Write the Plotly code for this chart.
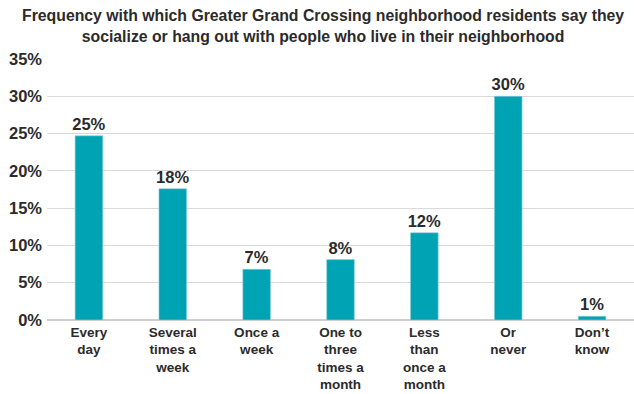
import plotly.graph_objects as go

# Survey responses: how often residents socialize with neighbors
categories = [
    "Every<br>day",
    "Several<br>times a<br>week",
    "Once a<br>week",
    "One to<br>three<br>times a<br>month",
    "Less<br>than<br>once a<br>month",
    "Or<br>never",
    "Don\u2019t<br>know",
]
shares = [24.7, 17.6, 6.8, 8.1, 11.7, 30.0, 0.5]
y_ticks = [0, 5, 10, 15, 20, 25, 30, 35]
y_tick_labels = [f"{t}%" for t in y_ticks]

title_text = (
    "Frequency with which Greater Grand Crossing neighborhood residents say they<br>"
    "socialize or hang out with people who live in their neighborhood"
)

FONT = "Liberation Sans"
TEXT_COLOR = "#2b2b2b"
BAR_COLOR = "#00A3B3"

fig = go.Figure(
    go.Bar(
        x=categories,
        y=shares,
        marker=dict(color=BAR_COLOR, line=dict(color="#8fd3da", width=0.6)),
        width=0.33,
        texttemplate="%{y:.0f}%",
        textposition="outside",
        constraintext="none",
        textfont=dict(family=FONT, size=16.5, color=TEXT_COLOR, weight="bold"),
        cliponaxis=False,
        hoverinfo="skip",
    )
)

# Two-line heading placed above the plot area
fig.add_annotation(
    text=title_text,
    xref="paper",
    yref="paper",
    x=0.47,
    y=1.0 + (59 - 5) / 261,
    xanchor="center",
    yanchor="top",
    showarrow=False,
    align="center",
    font=dict(family=FONT, size=15.8, color=TEXT_COLOR, weight="bold"),
)

fig.update_layout(
    width=634,
    height=394,
    margin=dict(l=47, r=0, t=59, b=74),
    paper_bgcolor="white",
    plot_bgcolor="white",
    showlegend=False,
    uniformtext=dict(mode="show", minsize=16),
    xaxis=dict(
        showgrid=False,
        showline=False,
        ticks="",
        automargin=False,
        ticklabelstandoff=2,
        tickfont=dict(family=FONT, size=13.5, color=TEXT_COLOR, weight="bold"),
        fixedrange=True,
    ),
    yaxis=dict(
        range=[0, 35],
        tickvals=y_ticks,
        ticktext=y_tick_labels,
        showgrid=True,
        gridcolor="#d9d9d9",
        gridwidth=1,
        zeroline=True,
        zerolinecolor="#cfcfcf",
        zerolinewidth=1.5,
        showline=False,
        ticks="",
        automargin=False,
        ticklabelstandoff=4,
        tickfont=dict(family=FONT, size=16.5, color=TEXT_COLOR, weight="bold"),
        fixedrange=True,
    ),
)

fig.write_html("out.html")
